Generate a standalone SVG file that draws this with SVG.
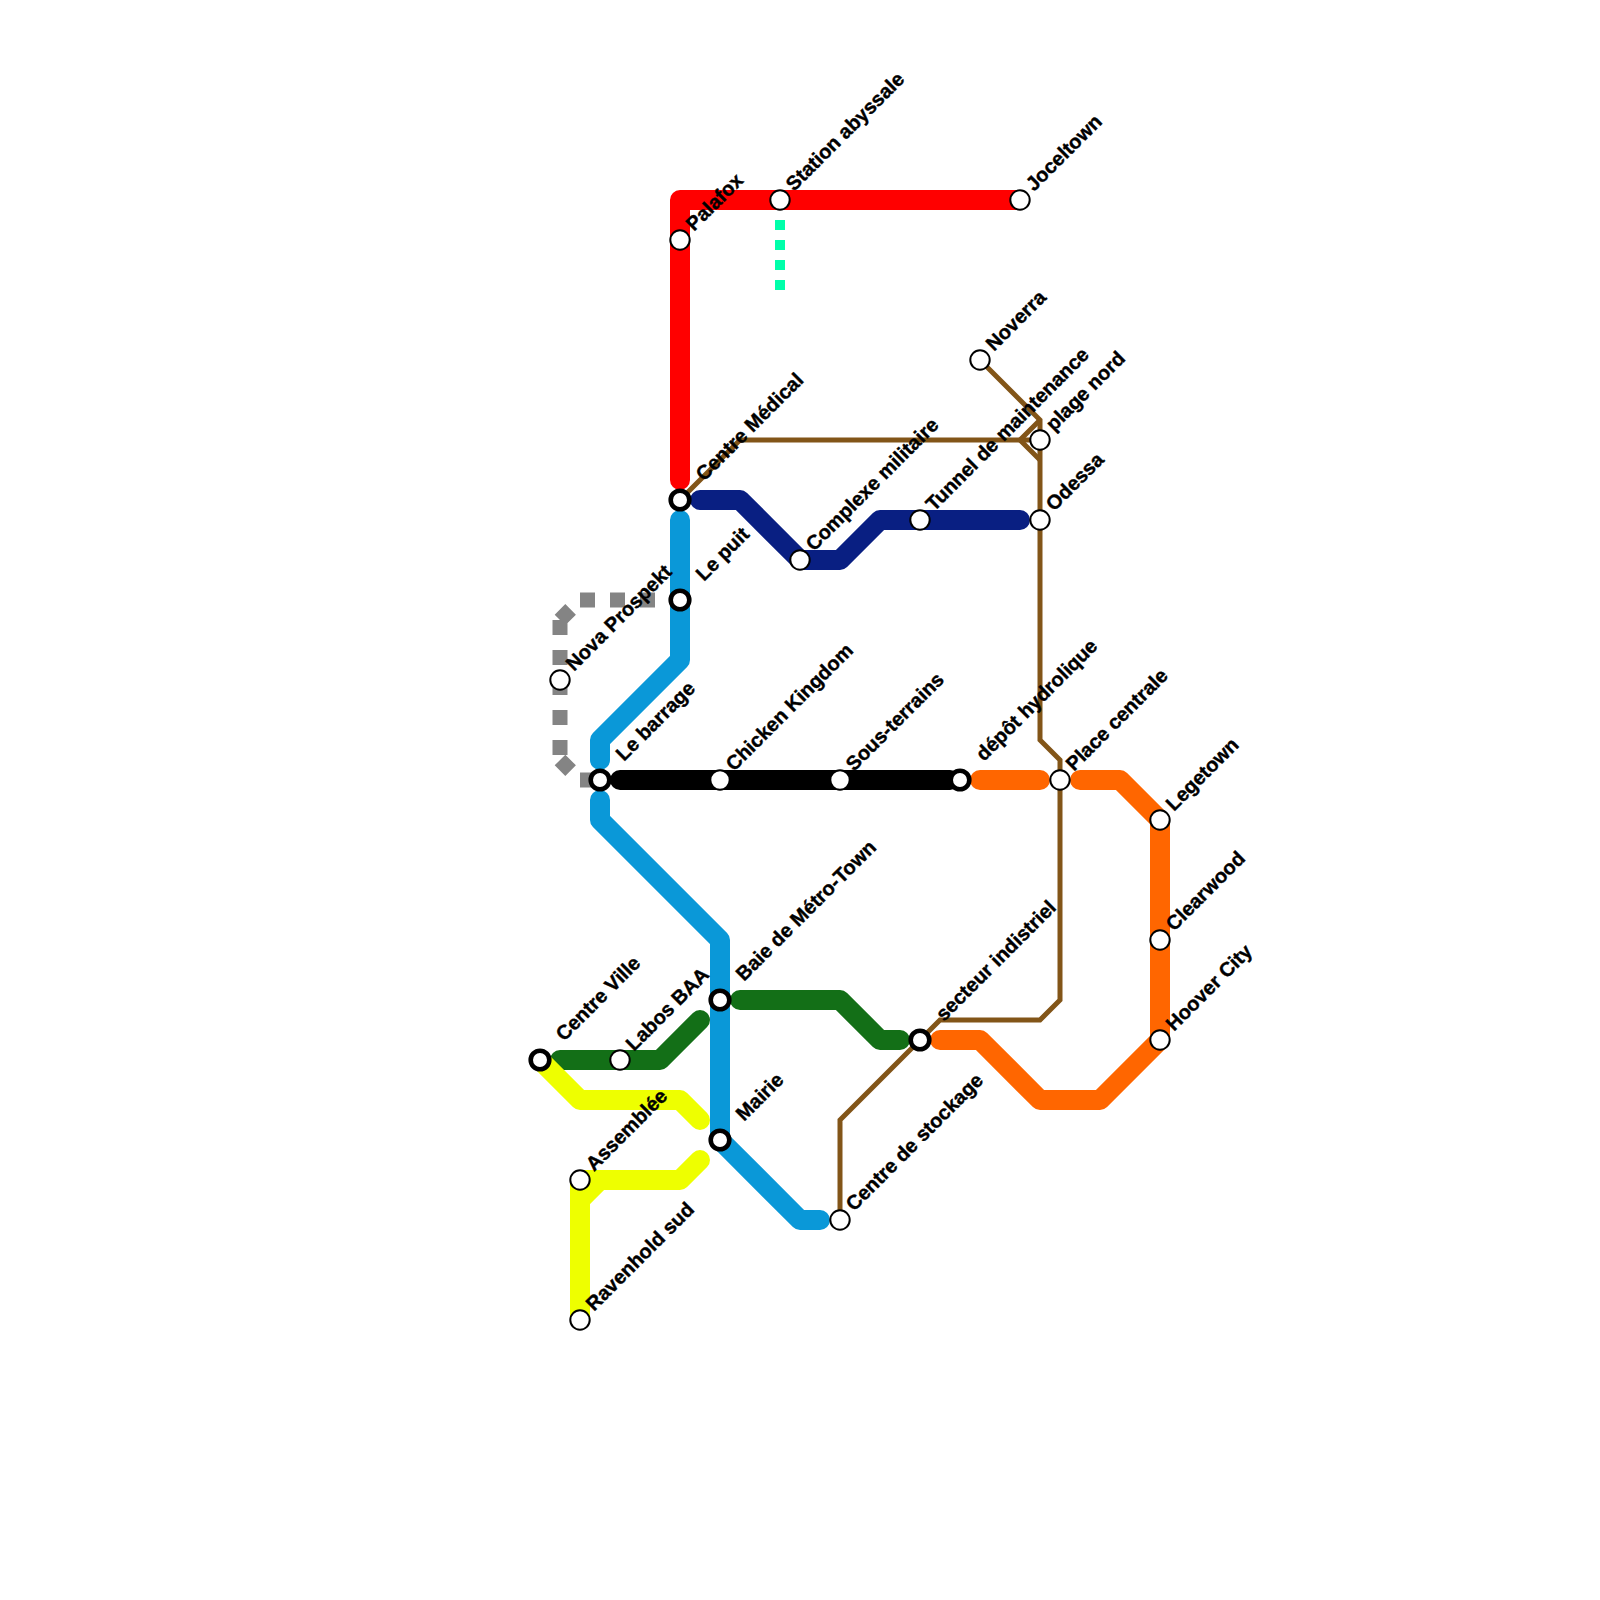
<svg xmlns="http://www.w3.org/2000/svg" width="1600" height="1600" viewBox="0 0 1600 1600">
<style>
.l{fill:none;stroke-width:20;stroke-linecap:round;stroke-linejoin:round}
.d{fill:none;stroke-linecap:butt}
.b{fill:none;stroke:#825518;stroke-width:5;stroke-linecap:butt;stroke-linejoin:miter}
.s circle{fill:#fff;stroke:#000;stroke-width:2}
.i circle{fill:#fff;stroke:#000;stroke-width:4.6}
text{font-family:"Liberation Sans",Arial,sans-serif;font-weight:700;font-size:20px;fill:#000;stroke:#000;stroke-width:.4}
</style>
<rect width="1600" height="1600" fill="#fff"/>
<g id="connectors">
<path class="d" stroke="#848484" stroke-width="15" stroke-dasharray="15 15" d="M580,600H680M560,620L580,600M560,620V760M560,760L580,780M580,780H600"/>
<path class="d" stroke="#00ffaa" stroke-width="10" stroke-dasharray="10 10" d="M780,200V300"/>
<path class="l" stroke="#ff0000" d="M1020,200H680V480"/>
<path class="l" stroke="#0a98d8" d="M680,520V660L600,740V760"/>
<path class="l" stroke="#0a98d8" d="M600,800V820L720,940V1140L800,1220H820"/>
<path class="l" stroke="#091f82" d="M700,500H740L800,560H840L880,520H1020"/>
<path class="l" stroke="#000" d="M620,780H950"/>
<path class="l" stroke="#ff6600" d="M980,780H1040"/>
<path class="l" stroke="#ff6600" d="M1080,780H1120L1160,820V1040L1100,1100H1040L980,1040H940"/>
<path class="l" stroke="#136f17" d="M560,1060H660L700,1020"/>
<path class="l" stroke="#136f17" d="M740,1000H840L880,1040H900"/>
<path class="l" stroke="#eeff00" d="M540,1060L580,1100H680L700,1120"/>
<path class="l" stroke="#eeff00" d="M700,1160L680,1180H600L580,1200V1320M580,1180V1200M580,1180H600"/>
<path class="b" d="M680,500L740,440H1040"/>
<path class="b" d="M980,360L1040,420V740L1060,760V1000L1040,1020H940L840,1120V1220"/>
<path class="b" d="M1040,420L1020,440L1040,460"/>
</g>
<g id="n-palafox" class="s"><circle cx="680" cy="240" r="9.7"/><text transform="translate(694,232) rotate(-45)">Palafox</text></g>
<g id="n-abyssale" class="s"><circle cx="780" cy="200" r="9.7"/><text transform="translate(794,192) rotate(-45)">Station abyssale</text></g>
<g id="n-joceltown" class="s"><circle cx="1020" cy="200" r="9.7"/><text transform="translate(1034,192) rotate(-45)">Joceltown</text></g>
<g id="n-noverra" class="s"><circle cx="980" cy="360" r="9.7"/><text transform="translate(994,352) rotate(-45)">Noverra</text></g>
<g id="n-plage" class="s"><circle cx="1040" cy="440" r="9.7"/><text transform="translate(1054,432) rotate(-45)">plage nord</text></g>
<g id="n-odessa" class="s"><circle cx="1040" cy="520" r="9.7"/><text transform="translate(1054,512) rotate(-45)">Odessa</text></g>
<g id="n-tunnel" class="s"><circle cx="920" cy="520" r="9.7"/><text transform="translate(934,512) rotate(-45)">Tunnel de maintenance</text></g>
<g id="n-complexe" class="s"><circle cx="800" cy="560" r="9.7"/><text transform="translate(814,552) rotate(-45)">Complexe militaire</text></g>
<g id="n-medical" class="i"><circle cx="680" cy="500" r="9.3"/><text transform="translate(704,482) rotate(-45)">Centre Médical</text></g>
<g id="n-puit" class="i"><circle cx="680" cy="600" r="9.3"/><text transform="translate(704,582) rotate(-45)">Le puit</text></g>
<g id="n-nova" class="s"><circle cx="560" cy="680" r="9.7"/><text transform="translate(574,672) rotate(-45)">Nova Prospekt</text></g>
<g id="n-barrage" class="i"><circle cx="600" cy="780" r="9.3"/><text transform="translate(624,762) rotate(-45)">Le barrage</text></g>
<g id="n-chicken" class="s"><circle cx="720" cy="780" r="9.7"/><text transform="translate(734,772) rotate(-45)">Chicken Kingdom</text></g>
<g id="n-sous" class="s"><circle cx="840" cy="780" r="9.7"/><text transform="translate(854,772) rotate(-45)">Sous-terrains</text></g>
<g id="n-depot" class="i"><circle cx="960" cy="780" r="9.3"/><text transform="translate(984,762) rotate(-45)">dépôt hydrolique</text></g>
<g id="n-place" class="s"><circle cx="1060" cy="780" r="9.7"/><text transform="translate(1074,772) rotate(-45)">Place centrale</text></g>
<g id="n-legetown" class="s"><circle cx="1160" cy="820" r="9.7"/><text transform="translate(1174,812) rotate(-45)">Legetown</text></g>
<g id="n-clearwood" class="s"><circle cx="1160" cy="940" r="9.7"/><text transform="translate(1174,932) rotate(-45)">Clearwood</text></g>
<g id="n-hoover" class="s"><circle cx="1160" cy="1040" r="9.7"/><text transform="translate(1174,1032) rotate(-45)">Hoover City</text></g>
<g id="n-baie" class="i"><circle cx="720" cy="1000" r="9.3"/><text transform="translate(744,982) rotate(-45)">Baie de Métro-Town</text></g>
<g id="n-mairie" class="i"><circle cx="720" cy="1140" r="9.3"/><text transform="translate(744,1122) rotate(-45)">Mairie</text></g>
<g id="n-secteur" class="i"><circle cx="920" cy="1040" r="9.3"/><text transform="translate(944,1022) rotate(-45)">secteur indistriel</text></g>
<g id="n-stockage" class="s"><circle cx="840" cy="1220" r="9.7"/><text transform="translate(854,1212) rotate(-45)">Centre de stockage</text></g>
<g id="n-ville" class="i"><circle cx="540" cy="1060" r="9.3"/><text transform="translate(564,1042) rotate(-45)">Centre Ville</text></g>
<g id="n-labos" class="s"><circle cx="620" cy="1060" r="9.7"/><text transform="translate(634,1052) rotate(-45)">Labos BAA</text></g>
<g id="n-assemblee" class="s"><circle cx="580" cy="1180" r="9.7"/><text transform="translate(594,1172) rotate(-45)">Assemblée</text></g>
<g id="n-ravenhold" class="s"><circle cx="580" cy="1320" r="9.7"/><text transform="translate(594,1312) rotate(-45)">Ravenhold sud</text></g>
</svg>
